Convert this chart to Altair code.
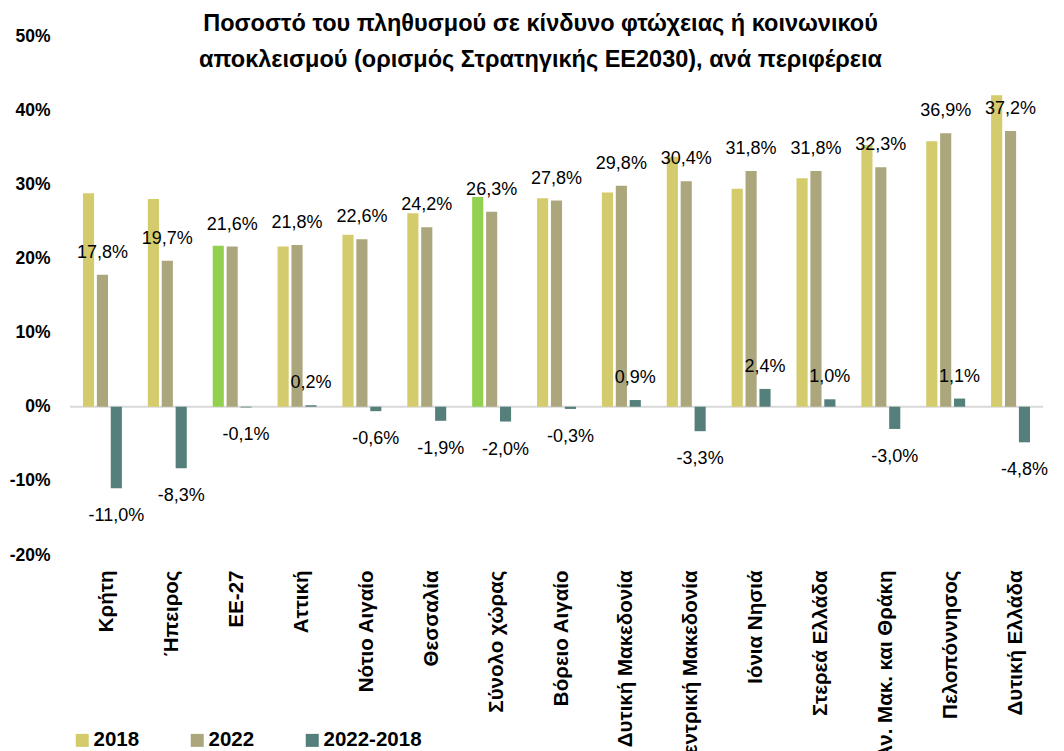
import altair as alt
import pandas as pd

regions = ["Κρήτη", "Ήπειρος", "ΕΕ-27", "Αττική", "Νότιο Αιγαίο", "Θεσσαλία",
           "Σύνολο χώρας", "Βόρειο Αιγαίο", "Δυτική Μακεδονία", "Κεντρική Μακεδονία",
           "Ιόνια Νησιά", "Στερεά Ελλάδα", "Αν. Μακ. και Θράκη", "Πελοπόννησος",
           "Δυτική Ελλάδα"]
v2018 = [28.8, 28.0, 21.7, 21.6, 23.2, 26.1, 28.3, 28.1, 28.9, 33.7, 29.4, 30.8, 35.3, 35.8, 42.0]
v2022 = [17.8, 19.7, 21.6, 21.8, 22.6, 24.2, 26.3, 27.8, 29.8, 30.4, 31.8, 31.8, 32.3, 36.9, 37.2]
vdiff = [-11.0, -8.3, -0.1, 0.2, -0.6, -1.9, -2.0, -0.3, 0.9, -3.3, 2.4, 1.0, -3.0, 1.1, -4.8]
highlight = ["ΕΕ-27", "Σύνολο χώρας"]

series = ["2018", "2022", "2022-2018"]
colors = ["#D3CB6C", "#ABA67C", "#557F7B"]
green = "#92D050"
y_ticks = [-20, -10, 0, 10, 20, 30, 40, 50]
title_lines = ["Ποσοστό του πληθυσμού σε κίνδυνο φτώχειας ή κοινωνικού",
               "αποκλεισμού (ορισμός Στρατηγικής ΕΕ2030), ανά περιφέρεια"]

rows = []
for i, r in enumerate(regions):
    for s, vals in zip(series, [v2018, v2022, vdiff]):
        rows.append({"region": r, "series": s, "value": vals[i], "hl": r in highlight})
df = pd.DataFrame(rows)

FONT = "Liberation Sans"

base = alt.Chart(df).encode(
    x=alt.X("region:N", sort=regions,
            scale=alt.Scale(paddingInner=0.4, paddingOuter=0.2),
            axis=alt.Axis(title=None, labelAngle=-90, labelFont=FONT, labelFontWeight="bold",
                          labelFontSize=20.5, labelColor="black", domain=False, ticks=False,
                          labelPadding=10, labelLimit=500, translate=5.5)),
    xOffset=alt.XOffset("series:N", sort=series,
                        scale=alt.Scale(paddingInner=0.2, paddingOuter=0)),
    y=alt.Y("value:Q", scale=alt.Scale(domain=[-20, 50], nice=False),
            axis=alt.Axis(title=None, values=y_ticks, labelExpr="datum.value + '%'",
                          labelFont=FONT, labelFontWeight="bold", labelFontSize=17.5,
                          labelColor="black", grid=False, domain=False, ticks=False,
                          labelPadding=20)),
)

bars = base.mark_bar().encode(
    color=alt.condition(
        "datum.hl && datum.series == '2018'",
        alt.value(green),
        alt.Color("series:N", scale=alt.Scale(domain=series, range=colors),
                  legend=alt.Legend(title=None, orient="none", legendX=2, legendY=694,
                                    direction="horizontal", labelFont=FONT,
                                    labelFontWeight="bold", labelFontSize=20.5,
                                    labelColor="black", symbolType="square",
                                    symbolSize=169, symbolStrokeWidth=0, labelOffset=1,
                                    columnPadding=47, padding=0)),
    )
)

label_expr = "(datum.value < 0 ? '-' : '') + replace(format(abs(datum.value), '.1f'), '.', ',') + '%'"

text_pos = base.mark_text(dy=-17, baseline="alphabetic", font=FONT, fontSize=18,
                          color="black").encode(text="label:N").transform_filter(
    "datum.series != '2018' && datum.value >= 0").transform_calculate(label=label_expr)
text_neg = base.mark_text(dy=33, baseline="alphabetic", font=FONT, fontSize=18,
                          color="black").encode(text="label:N").transform_filter(
    "datum.series != '2018' && datum.value < 0").transform_calculate(label=label_expr)

zero = alt.Chart(pd.DataFrame({"value": [0]})).mark_rule(
    color="#D9D9D9", strokeWidth=2).encode(y="value:Q")

chart = alt.layer(zero, bars, text_pos, text_neg).properties(
    width=973, height=519,
    title=alt.TitleParams(text=title_lines, font=FONT, fontSize=23.5, fontWeight="bold",
                          color="black", lineHeight=36, anchor="middle", frame="group",
                          dx=-16, dy=48),
    autosize=alt.AutoSizeParams(type="none"),
    padding={"left": 62, "top": 28, "right": 8, "bottom": 200},
).configure_view(stroke=None)

chart.save("out.html", embed_options={"renderer": "svg", "actions": False})
